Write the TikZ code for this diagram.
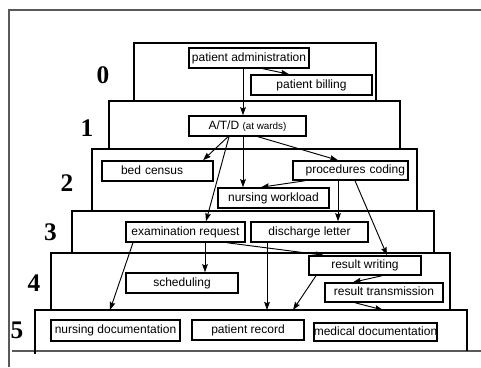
\documentclass[tikz,border=0pt]{standalone}
\usepackage{fontspec}
\setmainfont{Liberation Sans}
\newfontfamily\digitfont{Liberation Serif}
\usetikzlibrary{calc,arrows.meta}
\begin{document}
\begin{tikzpicture}[x=0.75pt,y=-0.75pt,
  bx/.style={draw, line width=1.1pt, inner sep=0pt, font=\fontsize{9}{10}\selectfont, text height=6.6pt, text depth=1.9pt},
  lvl/.style={line width=1pt},
  frame/.style={draw=black!65, line width=1pt},
  num/.style={font=\digitfont\bfseries\fontsize{19}{20}\selectfont, inner sep=0pt},
  arr/.style={line width=0.7pt, -{Stealth[length=6pt,width=4.2pt,inset=0.8pt]}}]
\useasboundingbox (0,0) rectangle (481,367);
% outer frame
\draw[frame] (9,367) -- (9,10) -- (481,10);
\draw[frame] (12,351) -- (481,351);
% levels
\draw[lvl] (134,101) -- (134,43) -- (376,43) -- (376,101);
\draw[lvl] (109,150) -- (109,101) -- (400,101) -- (400,150);
\draw[lvl] (92,212) -- (92,149) -- (417,149) -- (417,212);
\draw[lvl] (72,254) -- (72,211) -- (434,211) -- (434,254);
\draw[lvl] (51,311) -- (51,253) -- (450,253) -- (450,311);
\draw[lvl] (35,354) -- (35,310) -- (467,310) -- (467,351);
% level numbers
\node[num] (n0) at (103,75) {0};
\node[num] (n1) at (87,128) {1};
\node[num] (n2) at (67,183) {2};
\node[num] (n3) at (50.5,232.5) {3};
\node[num] (n4) at (34,283) {4};
\node[num] (n5) at (17,330.5) {5};
% boxes
\node[bx, minimum width=90pt, minimum height=15pt] (padm) at (249,58) {patient administration};
\node[bx, minimum width=90.75pt, minimum height=15pt] (pbill) at (311.5,85) {patient billing};
\node[bx, minimum width=87.75pt, minimum height=15pt] (atd) at (247.5,126) {A/T/D {\fontsize{7.4}{8}\selectfont (at wards)}};
\node[bx, text width=54.75pt, inner xsep=14.25pt, align=left, minimum height=15pt] (bed) at (157.5,171) {bed census};
\node[bx, text width=81.75pt, inner xsep=2.25pt, align=right, minimum height=14.25pt] (proc) at (350.5,170.5) {procedures coding};
\node[bx, minimum width=83.25pt, minimum height=15pt] (nwork) at (273.5,198) {nursing workload};
\node[bx, minimum width=89.25pt, minimum height=15pt] (exam) at (185.5,232) {examination request};
\node[bx, minimum width=87.75pt, minimum height=15pt] (disch) at (309.5,232) {discharge letter};
\node[bx, minimum width=84pt, minimum height=14.25pt] (rwrite) at (365,265.5) {result writing};
\node[bx, minimum width=84pt, minimum height=15pt] (sched) at (182,283) {scheduling};
\node[bx, minimum width=88.5pt, minimum height=14.25pt] (rtrans) at (384,292.5) {result transmission};
\node[bx, minimum width=96.75pt, minimum height=15.75pt] (ndoc) at (115.5,330.5) {nursing documentation};
\node[bx, minimum width=84pt, minimum height=15pt] (prec) at (248,330) {patient record};
\node[bx, minimum width=90.75pt, minimum height=13.5pt] (mdoc) at (375.5,332) {medical documentation};
% free ends on the level-5 boundary
\coordinate (ndocin) at (110,310);
\coordinate (precin) at (267,310);
\coordinate (precin2) at (293,310);
\coordinate (mdocin) at (383,310);
% connectors
\draw[arr] ($(padm.south)+(-6,0)$) -- ($(atd.north)+(-4.5,0)$);
\draw[arr] ($(padm.south)+(14,0)$) -- ($(pbill.north)+(-22.5,0)$);
\draw[arr] ($(atd.south)+(-19.5,0)$) -- ($(bed.north)+(45.5,0)$);
\draw[arr] ($(atd.south)+(-18.5,0)$) -- ($(exam.north)+(20.5,0)$);
\draw[arr] ($(atd.south)+(-4.5,0)$) -- ($(nwork.north)+(-30.5,0)$);
\draw[arr] ($(atd.south)+(10.5,0)$) -- ($(proc.north)+(-12.5,0)$);
\draw[arr] ($(proc.south)+(-45.5,0)$) -- ($(nwork.north)+(-12.5,0)$);
\draw[arr] ($(proc.south)+(-12.5,0)$) -- ($(disch.north)+(28.5,0)$);
\draw[arr] ($(proc.south)+(4.5,0)$) -- ($(rwrite.north)+(22,0)$);
\draw[arr] ($(exam.south)+(-52.5,0)$) -- (ndocin);
\draw[arr] ($(exam.south)+(19.5,0)$) -- ($(sched.north)+(23,0)$);
\draw[arr] ($(exam.south)+(41.5,0)$) -- ($(rwrite.north)+(-41,0)$);
\draw[arr] ($(disch.south)+(-42.5,0)$) -- (precin);
\draw[arr] ($(rwrite.south)+(-49,0)$) -- (precin2);
\draw[arr] ($(rwrite.south)+(17,0)$) -- ($(rtrans.north)+(-31,0)$);
\draw[arr] ($(rtrans.south)+(-29,0)$) -- (mdocin);
\end{tikzpicture}
\end{document}
